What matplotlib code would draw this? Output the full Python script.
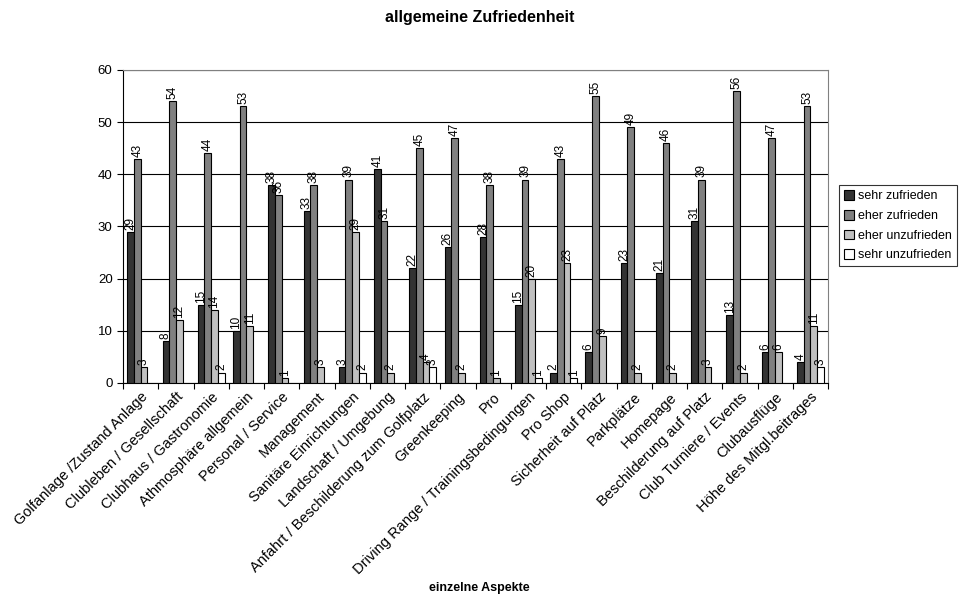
import numpy as np
import matplotlib
matplotlib.use("Agg")
import matplotlib.pyplot as plt

plt.rcParams['font.family'] = ['Liberation Sans', 'DejaVu Sans']

aspekte = ["Golfanlage /Zustand Anlage", "Clubleben / Gesellschaft", "Clubhaus / Gastronomie",
           "Athmosphäre allgemein", "Personal / Service", "Management", "Sanitäre Einrichtungen",
           "Landschaft / Umgebung", "Anfahrt / Beschilderung zum Golfplatz", "Greenkeeping", "Pro",
           "Driving Range / Trainingsbedingungen", "Pro Shop", "Sicherheit auf Platz", "Parkplätze",
           "Homepage", "Beschilderung auf Platz", "Club Turniere / Events", "Clubausflüge",
           "Höhe des Mitgl.beitrages"]

nan = np.nan
sehr_zufrieden = [29, 8, 15, 10, 38, 33, 3, 41, 22, 26, 28, 15, 2, 6, 23, 21, 31, 13, 6, 4]
eher_zufrieden = [43, 54, 44, 53, 36, 38, 39, 31, 45, 47, 38, 39, 43, 55, 49, 46, 39, 56, 47, 53]
eher_unzufrieden = [3, 12, 14, 11, 1, 3, 29, 2, 4, 2, 1, 20, 23, 9, 2, 2, 3, 2, 6, 11]
sehr_unzufrieden = [nan, nan, 2, nan, nan, nan, 2, nan, 3, nan, nan, 1, 1, nan, nan, nan, nan, nan, nan, 3]

serien = [("sehr zufrieden", sehr_zufrieden, "#333333"),
          ("eher zufrieden", eher_zufrieden, "#808080"),
          ("eher unzufrieden", eher_unzufrieden, "#c0c0c0"),
          ("sehr unzufrieden", sehr_unzufrieden, "#ffffff")]

fig = plt.figure(figsize=(9.59, 5.96), dpi=100)
ax = fig.add_axes([0.1283, 0.3574, 0.7351, 0.5252])

x = np.arange(len(aspekte))
w = 0.19
for i, (name, vals, col) in enumerate(serien):
    pos = x + (i - 1.5) * w
    ax.bar(pos, vals, width=w, color=col, edgecolor="black", linewidth=0.8, label=name, zorder=3)
    for p, v in zip(pos, vals):
        if np.isnan(v):
            continue
        ax.text(p, v + 0.4, f"{int(v)}", rotation=90, ha="center", va="bottom", fontsize=8.5, zorder=4)

ax.set_xlim(-0.5, len(aspekte) - 0.5)
ax.set_ylim(0, 60)
ax.set_yticks(range(0, 61, 10))
ax.yaxis.grid(True, color="black", linewidth=0.8, zorder=0)
ax.set_axisbelow(True)

ax.set_xticks(np.arange(len(aspekte) + 1) - 0.5)
ax.set_xticklabels([])
ax.set_xticks(x, minor=True)
ax.set_xticklabels(aspekte, minor=True, rotation=45, ha="right", rotation_mode="anchor", fontsize=10.5)
ax.tick_params(axis="x", which="minor", length=0, pad=5)
ax.tick_params(axis="x", which="major", length=4, direction="out")
ax.tick_params(axis="y", labelsize=9.5, length=4)

for side in ["top", "right"]:
    ax.spines[side].set_color("#808080")
for side in ["left", "bottom"]:
    ax.spines[side].set_color("black")

fig.text(0.5, 0.970, "allgemeine Zufriedenheit", ha="center", va="center", fontsize=11.5, fontweight="bold")
fig.text(0.5, 0.014, "einzelne Aspekte", ha="center", va="center", fontsize=9, fontweight="bold")

leg = fig.legend(loc="upper left", bbox_to_anchor=(0.875, 0.689), fontsize=9, frameon=True,
                 fancybox=False, edgecolor="black", handlelength=0.8, handleheight=0.8,
                 handletextpad=0.3, borderpad=0.4, labelspacing=0.6, borderaxespad=0)
leg.get_frame().set_linewidth(0.8)

fig.savefig("out.png", dpi=100)
